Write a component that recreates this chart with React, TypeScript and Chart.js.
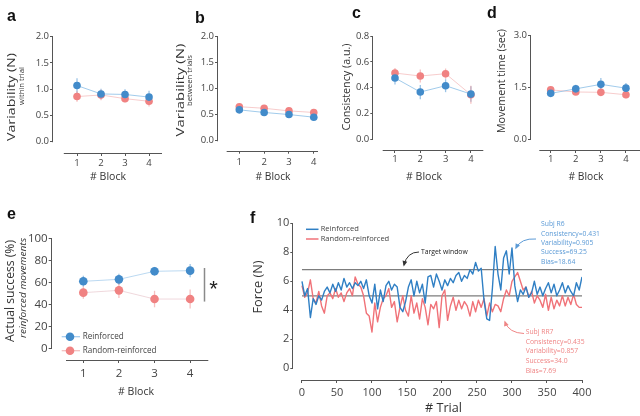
import React, { useEffect, useRef } from "react";
import { Chart, registerables } from "chart.js";

Chart.register(...registerables);

// ---------------- data ----------------
const blocks = [1, 2, 3, 4];

const varWithinReinforced = [1.07, 0.91, 0.9, 0.85];
const varWithinRandom = [0.86, 0.89, 0.82, 0.77];
const varWithinReinforcedErr = [0.14, 0.1, 0.1, 0.12];
const varWithinRandomErr = [0.1, 0.1, 0.07, 0.1];

const varBetweenReinforced = [0.59, 0.54, 0.5, 0.45];
const varBetweenRandom = [0.65, 0.62, 0.57, 0.54];
const varBetweenReinforcedErr = [0.04, 0.03, 0.03, 0.03];
const varBetweenRandomErr = [0.03, 0.03, 0.03, 0.03];

const consistencyReinforced = [0.475, 0.366, 0.415, 0.35];
const consistencyRandom = [0.513, 0.49, 0.508, 0.345];
const consistencyReinforcedErr = [0.05, 0.055, 0.05, 0.06];
const consistencyRandomErr = [0.04, 0.05, 0.04, 0.07];

const moveTimeReinforced = [1.32, 1.45, 1.58, 1.47];
const moveTimeRandom = [1.42, 1.36, 1.35, 1.28];
const moveTimeReinforcedErr = [0.1, 0.12, 0.18, 0.15];
const moveTimeRandomErr = [0.08, 0.08, 0.1, 0.1];

const successReinforced = [60.9, 62.7, 70, 70.6];
const successRandom = [50.6, 52.7, 44.8, 44.8];
const successReinforcedErr = [5, 5, 4, 6];
const successRandomErr = [5.5, 7, 7.5, 8.6];

const trials = [
  0, 4, 8, 12, 16, 20, 24, 28, 32, 36,
  40, 44, 48, 52, 56, 60, 64, 68, 72, 76,
  80, 84, 88, 92, 96, 100, 104, 108, 112, 116,
  120, 124, 128, 132, 136, 140, 144, 148, 152, 156,
  160, 164, 168, 172, 176, 180, 184, 188, 192, 196,
  200, 204, 208, 212, 216, 220, 224, 228, 232, 236,
  240, 244, 248, 252, 256, 260, 264, 268, 272, 276,
  280, 284, 288, 292, 296, 300, 304, 308, 312, 316,
  320, 324, 328, 332, 336, 340, 344, 348, 352, 356,
  360, 364, 368, 372, 376, 380, 384, 388, 392, 396,
  400,
];
const forceReinforced = [
  6.0, 5.0, 5.5, 3.5, 4.8, 4.4, 5.0, 4.7, 5.3, 5.6,
  5.2, 5.8, 5.3, 5.9, 5.4, 6.2, 5.6, 5.9, 5.5, 5.9,
  5.7, 6.0, 5.5, 6.1, 5.0, 4.5, 5.8, 4.1, 5.4, 4.6,
  5.7, 6.0, 5.4, 5.8, 5.6, 4.2, 3.9, 4.6, 5.6, 6.1,
  5.0, 6.0, 5.2, 5.8, 4.5, 6.3, 6.4, 5.6, 6.5, 6.0,
  5.4, 6.1, 5.7, 6.2, 5.9, 6.4, 6.6, 6.0, 6.4, 6.2,
  6.8, 6.5, 7.3, 6.7, 6.9, 4.7, 3.4, 3.3, 5.5, 8.4,
  6.5, 5.4, 7.6, 8.1, 6.5, 8.3, 5.7, 4.6, 5.4, 5.1,
  5.6, 4.9, 5.2, 6.0, 5.1, 5.6, 5.0, 5.5, 5.9, 5.2,
  5.8, 5.0, 5.4, 5.9, 5.2, 5.7, 5.3, 5.0, 5.9, 5.4,
  6.3,
];
const forceRandom = [
  5.7, 4.9, 5.2, 6.1, 4.8, 4.5, 5.3, 4.3, 3.8, 5.0,
  5.2, 4.8, 5.5, 4.9, 5.2, 4.6, 5.2, 5.5, 5.0, 6.3,
  5.8, 5.6, 5.0, 3.8, 3.6, 2.5, 4.5, 3.2, 4.2, 4.8,
  5.0, 5.5, 4.2, 4.6, 3.2, 4.2, 5.0, 4.0, 3.6, 5.0,
  3.8, 4.5, 3.4, 4.8, 4.2, 3.0, 4.4, 4.1, 4.6, 2.8,
  5.0, 5.4, 3.3, 4.3, 4.9, 4.0, 4.7, 4.1, 4.6, 4.3,
  3.6, 4.6, 3.9, 4.7, 4.2, 4.8, 3.6, 4.5, 3.9, 4.4,
  4.3, 3.9, 4.8, 5.4, 5.0, 6.0, 6.3, 6.6, 6.0, 5.4,
  5.6, 4.9, 5.3, 4.5, 5.0, 4.7, 4.2, 5.1, 4.0, 4.9,
  4.1, 4.7, 4.3, 5.0, 4.3, 4.9, 4.4, 5.1, 4.4, 4.2,
  4.2,
];
const targetUpper = 6.8;
const targetLower = 5.0;
const trialRange = [0, 400];

const ticksVarN = [0, 0.5, 1.0, 1.5, 2.0];
const ticksConsistency = [0, 0.2, 0.4, 0.6, 0.8];
const ticksMoveTime = [0, 1.5, 3.0];
const ticksSuccess = [0, 20, 40, 60, 80, 100];
const ticksForce = [0, 2, 4, 6, 8, 10];
const ticksTrial = [0, 50, 100, 150, 200, 250, 300, 350, 400];

const seriesNames = ["Reinforced", "Random-reinforced"];
const subjR6 = ["Subj R6", "Consistency=0.431", "Variability=0.905", "Success=69.25", "Bias=18.64"];
const subjRR7 = ["Subj RR7", "Consistency=0.435", "Variability=0.857", "Success=34.0", "Bias=7.69"];

// ---------------- styles ----------------
const BLUE = "#428bca";
const RED = "#f08282";
const BLUE_LINE = "rgba(130,185,228,0.75)";
const RED_LINE = "rgba(242,170,170,0.6)";
const BLUE_ERR = "rgba(120,175,222,0.75)";
const RED_ERR = "rgba(240,150,150,0.6)";
const TRACE_BLUE = "#2f7fc4";
const TRACE_RED = "#f07278";
const AXIS = "#555";
const TEXT = "#333";

type TextSpec = {
  t: string;
  x: number;
  y: number;
  w?: number;
  stretch?: boolean;
  size?: number;
  rot?: boolean;
  align?: CanvasTextAlign;
  base?: CanvasTextBaseline;
  color?: string;
  bold?: boolean;
  italic?: boolean;
  family?: string;
};

function fontStr(s: TextSpec, size: number) {
  return `${s.italic ? "italic " : ""}${s.bold ? "bold " : ""}${size}px "${s.family || "Open Sans"}"`;
}

function drawText(ctx: CanvasRenderingContext2D, s: TextSpec) {
  ctx.save();
  let size = s.size || 10;
  let sx = 1;
  ctx.font = fontStr(s, size);
  if (s.w) {
    const m = ctx.measureText(s.t).width;
    if (s.stretch) {
      sx = s.w / m;
    } else {
      size = (size * s.w) / m;
      ctx.font = fontStr(s, size);
    }
  }
  ctx.fillStyle = s.color || TEXT;
  ctx.textAlign = s.align || "center";
  ctx.textBaseline = s.base || "middle";
  ctx.translate(s.x, s.y);
  if (s.rot) ctx.rotate(-Math.PI / 2);
  if (sx !== 1) ctx.scale(sx, 1);
  ctx.fillText(s.t, 0, 0);
  ctx.restore();
}

function fitSize(ctx: CanvasRenderingContext2D, text: string, w: number, family = "Open Sans") {
  ctx.save();
  ctx.font = `10px "${family}"`;
  const m = ctx.measureText(text).width;
  ctx.restore();
  return (10 * w) / m;
}

function curveArrow(
  ctx: CanvasRenderingContext2D,
  x0: number, y0: number, cx: number, cy: number, x1: number, y1: number,
  color: string, head: boolean
) {
  ctx.save();
  ctx.strokeStyle = color;
  ctx.fillStyle = color;
  ctx.lineWidth = 1;
  ctx.beginPath();
  ctx.moveTo(x0, y0);
  ctx.quadraticCurveTo(cx, cy, x1, y1);
  ctx.stroke();
  if (head) {
    const a = Math.atan2(y1 - cy, x1 - cx);
    ctx.translate(x1, y1);
    ctx.rotate(a);
    ctx.beginPath();
    ctx.moveTo(1.5, 0);
    ctx.lineTo(-4, -2.4);
    ctx.lineTo(-4, 2.4);
    ctx.closePath();
    ctx.fill();
  }
  ctx.restore();
}

type PanelSpec = {
  L: number; T: number; R: number; B: number;
  xMin: number; xMax: number; xTicks: number[]; xLineStart: number; xLineEnd?: number;
  yMin: number; yMax: number; yTicks: number[];
  yFmt: (v: number) => string;
  tickSize: number; xPad: number; yPad: number;
  datasets: any[];
  errors?: { vals: number[]; errs: number[]; color: string }[];
  texts: TextSpec[];
  extra?: (ctx: CanvasRenderingContext2D, chart: any) => void;
};

function makeConfig(p: PanelSpec): any {
  const yW = 40;
  const xH = 30;
  const plugin = {
    id: "panelExtras",
    beforeDatasetsDraw(chart: any) {
      const ctx: CanvasRenderingContext2D = chart.ctx;
      const xs = chart.scales.x;
      const ys = chart.scales.y;
      ctx.save();
      ctx.strokeStyle = AXIS;
      ctx.lineWidth = 1;
      ctx.beginPath();
      const ax = Math.round(chart.chartArea.left) - 0.5;
      ctx.moveTo(ax, ys.getPixelForValue(p.yTicks[p.yTicks.length - 1]));
      ctx.lineTo(ax, ys.getPixelForValue(p.yTicks[0]) + 0.5);
      const by = Math.round(chart.chartArea.bottom) + 0.5;
      ctx.moveTo(xs.getPixelForValue(p.xLineStart), by);
      ctx.lineTo(xs.getPixelForValue(p.xLineEnd ?? p.xMax), by);
      ctx.stroke();
      (p.errors || []).forEach((e, di) => {
        const meta = chart.getDatasetMeta(di);
        ctx.strokeStyle = e.color;
        ctx.lineWidth = 1.3;
        meta.data.forEach((pt: any, j: number) => {
          ctx.beginPath();
          ctx.moveTo(pt.x, ys.getPixelForValue(e.vals[j] + e.errs[j]));
          ctx.lineTo(pt.x, ys.getPixelForValue(e.vals[j] - e.errs[j]));
          ctx.stroke();
        });
      });
      ctx.restore();
    },
    afterDraw(chart: any) {
      const ctx: CanvasRenderingContext2D = chart.ctx;
      if (p.extra) p.extra(ctx, chart);
      p.texts.forEach((t) => drawText(ctx, t));
    },
  };
  return {
    type: "line",
    data: { datasets: p.datasets },
    options: {
      responsive: false,
      animation: false,
      events: [],
      layout: {
        autoPadding: false,
        padding: { left: p.L - yW, top: p.T, right: 640 - p.R, bottom: 416 - p.B - xH },
      },
      plugins: { legend: { display: false }, tooltip: { enabled: false }, title: { display: false } },
      scales: {
        x: {
          type: "linear",
          min: p.xMin,
          max: p.xMax,
          afterBuildTicks: (s: any) => {
            s.ticks = p.xTicks.map((v) => ({ value: v }));
          },
          afterFit: (s: any) => {
            s.height = xH;
          },
          ticks: {
            font: { family: "Open Sans", size: p.tickSize },
            color: "#444",
            padding: p.xPad,
            maxRotation: 0,
            autoSkip: false,
            callback: (v: number) => String(v),
          },
          grid: { drawOnChartArea: false, drawTicks: true, tickLength: 3, color: AXIS },
          border: { display: false },
        },
        y: {
          type: "linear",
          min: p.yMin,
          max: p.yMax,
          afterBuildTicks: (s: any) => {
            s.ticks = p.yTicks.map((v) => ({ value: v }));
          },
          afterFit: (s: any) => {
            s.width = yW;
          },
          ticks: {
            font: { family: "Open Sans", size: p.tickSize },
            color: "#444",
            padding: p.yPad,
            autoSkip: false,
            callback: (v: number) => p.yFmt(v),
          },
          grid: { drawOnChartArea: false, drawTicks: true, tickLength: 3, color: AXIS },
          border: { display: false },
        },
      },
    },
    plugins: [plugin],
  };
}

function dotSeries(vals: number[], color: string, line: string, r: number) {
  return {
    data: blocks.map((b, i) => ({ x: b, y: vals[i] })),
    borderColor: line,
    borderWidth: 1,
    pointRadius: r,
    pointHoverRadius: r,
    pointBackgroundColor: color,
    pointBorderColor: color,
    pointBorderWidth: 0,
    tension: 0,
  };
}

const fmt1 = (v: number) => v.toFixed(1);
const fmt0 = (v: number) => String(v);

function letter(t: string, x: number, y: number): TextSpec {
  return { t, x, y, size: 16, bold: true, family: "Liberation Sans", align: "left", base: "alphabetic", color: "#111" };
}

function buildConfigs() {
  const r = 3.8;
  const a = makeConfig({
    L: 53, T: 36.7, R: 162, B: 153,
    xMin: 0.0, xMax: 4.54, xTicks: blocks, xLineStart: 0.45,
    yMin: -0.215, yMax: 2.0, yTicks: ticksVarN, yFmt: fmt1,
    tickSize: 9.5, xPad: 1.5, yPad: 1,
    datasets: [
      dotSeries(varWithinReinforced, BLUE, BLUE_LINE, r),
      dotSeries(varWithinRandom, RED, RED_LINE, r),
    ],
    errors: [
      { vals: varWithinReinforced, errs: varWithinReinforcedErr, color: BLUE_ERR },
      { vals: varWithinRandom, errs: varWithinRandomErr, color: RED_ERR },
    ],
    texts: [
      letter("a", 7, 20.7),
      { t: "Variability (N)", x: 11.5, y: 97, w: 88, stretch: true, rot: true, size: 11 },
      { t: "within trial", x: 21.7, y: 86, w: 38, stretch: true, rot: true, size: 6.5 },
      { t: "# Block", x: 108, y: 177, w: 36, size: 12 },
    ],
  });
  const b = makeConfig({
    L: 218, T: 36, R: 318, B: 150.7,
    xMin: 0.141, xMax: 4.17, xTicks: blocks, xLineStart: 0.49,
    yMin: -0.19, yMax: 2.0, yTicks: ticksVarN, yFmt: fmt1,
    tickSize: 9.5, xPad: 2.5, yPad: 1,
    datasets: [
      dotSeries(varBetweenReinforced, BLUE, BLUE_LINE, r),
      dotSeries(varBetweenRandom, RED, RED_LINE, r),
    ],
    errors: [
      { vals: varBetweenReinforced, errs: varBetweenReinforcedErr, color: BLUE_ERR },
      { vals: varBetweenRandom, errs: varBetweenRandomErr, color: RED_ERR },
    ],
    texts: [
      letter("b", 195, 22.7),
      { t: "Variability (N)", x: 180.8, y: 90, w: 93, stretch: true, rot: true, size: 11.5 },
      { t: "between trials", x: 189.5, y: 80.5, w: 51, stretch: true, rot: true, size: 7 },
      { t: "# Block", x: 273, y: 177, w: 35, size: 12 },
    ],
  });
  const c = makeConfig({
    L: 373.3, T: 36, R: 483.3, B: 150,
    xMin: 0.143, xMax: 4.49, xTicks: blocks, xLineStart: 0.514,
    yMin: -0.083, yMax: 0.8, yTicks: ticksConsistency, yFmt: fmt1,
    tickSize: 9.5, xPad: 0.5, yPad: 1,
    datasets: [
      dotSeries(consistencyReinforced, BLUE, BLUE_LINE, r),
      dotSeries(consistencyRandom, RED, RED_LINE, r),
    ],
    errors: [
      { vals: consistencyReinforced, errs: consistencyReinforcedErr, color: BLUE_ERR },
      { vals: consistencyRandom, errs: consistencyRandomErr, color: RED_ERR },
    ],
    texts: [
      letter("c", 352, 18.3),
      { t: "Consistency (a.u.)", x: 347, y: 87, w: 87, stretch: true, rot: true, size: 10.5 },
      { t: "# Block", x: 424, y: 177, w: 36, size: 12 },
    ],
  });
  const d = makeConfig({
    L: 531, T: 35, R: 640, B: 150,
    xMin: 0.215, xMax: 4.56, xTicks: blocks, xLineStart: 0.546,
    yMin: -0.31, yMax: 3.0, yTicks: ticksMoveTime, yFmt: fmt1,
    tickSize: 9.5, xPad: 0.5, yPad: 1,
    datasets: [
      dotSeries(moveTimeReinforced, BLUE, BLUE_LINE, r),
      dotSeries(moveTimeRandom, RED, RED_LINE, r),
    ],
    errors: [
      { vals: moveTimeReinforced, errs: moveTimeReinforcedErr, color: BLUE_ERR },
      { vals: moveTimeRandom, errs: moveTimeRandomErr, color: RED_ERR },
    ],
    texts: [
      letter("d", 487, 18.3),
      { t: "Movement time (sec)", x: 502.5, y: 81, w: 104, stretch: true, rot: true, size: 10.5 },
      { t: "# Block", x: 586, y: 177, w: 35, size: 12 },
    ],
  });
  const e = makeConfig({
    L: 51.7, T: 238.3, R: 208.3, B: 360,
    xMin: 0.112, xMax: 4.51, xTicks: blocks, xLineStart: 0.514,
    yMin: -10.6, yMax: 100, yTicks: ticksSuccess, yFmt: fmt0,
    tickSize: 11.5, xPad: 4, yPad: 1,
    datasets: [
      dotSeries(successReinforced, BLUE, "rgba(170,208,238,0.8)", 4.3),
      dotSeries(successRandom, RED, "rgba(232,200,205,0.7)", 4.3),
    ],
    errors: [
      { vals: successReinforced, errs: successReinforcedErr, color: BLUE_ERR },
      { vals: successRandom, errs: successRandomErr, color: RED_ERR },
    ],
    texts: [
      letter("e", 7, 219.3),
      { t: "Actual success (%)", x: 10, y: 291, w: 102, stretch: true, rot: true, size: 12.5 },
      { t: "reinforced movements", x: 23.7, y: 288, w: 100, stretch: true, rot: true, size: 9.5, italic: true },
      { t: "# Block", x: 136, y: 392, w: 36, size: 13 },
    ],
    extra: (ctx, chart) => {
      const xs = chart.scales.x;
      const ys = chart.scales.y;
      // significance bracket
      ctx.save();
      ctx.strokeStyle = "#8a8a8a";
      ctx.lineWidth = 1.5;
      const bx = Math.round(xs.getPixelForValue(4.39)) + 0.5;
      ctx.beginPath();
      ctx.moveTo(bx, ys.getPixelForValue(73));
      ctx.lineTo(bx, ys.getPixelForValue(42.5));
      ctx.stroke();
      ctx.restore();
      drawText(ctx, { t: "*", x: 213.5, y: 296, size: 22, family: "Liberation Sans", base: "alphabetic", color: "#222" });
      // legend
      const ls = fitSize(ctx, seriesNames[1], 74);
      const rows = [
        { y: 336.7, col: BLUE, line: "rgba(150,195,235,0.9)" },
        { y: 350.7, col: RED, line: "rgba(240,170,170,0.8)" },
      ];
      rows.forEach((rw, i) => {
        ctx.save();
        ctx.strokeStyle = rw.line;
        ctx.lineWidth = 1.2;
        ctx.beginPath();
        ctx.moveTo(61.7, rw.y);
        ctx.lineTo(80, rw.y);
        ctx.stroke();
        ctx.fillStyle = rw.col;
        ctx.beginPath();
        ctx.arc(70, rw.y, 4.3, 0, Math.PI * 2);
        ctx.fill();
        ctx.restore();
        drawText(ctx, { t: seriesNames[i], x: 82.7, y: rw.y, size: ls, align: "left", color: "#444" });
      });
    },
  });

  const traceDs = (vals: number[], color: string) => ({
    data: trials.map((t, i) => ({ x: t, y: vals[i] })),
    borderColor: color,
    borderWidth: 1.4,
    pointRadius: 0,
    pointHoverRadius: 0,
    tension: 0,
    borderJoinStyle: "round",
  });
  const targetDs = (v: number) => ({
    data: trialRange.map((t) => ({ x: t, y: v })),
    borderColor: "#7d7d7d",
    borderWidth: 1.3,
    pointRadius: 0,
    pointHoverRadius: 0,
  });
  const f = makeConfig({
    L: 293.3, T: 223.3, R: 582, B: 380,
    xMin: -12.4, xMax: 400, xTicks: ticksTrial, xLineStart: 0,
    yMin: -0.81, yMax: 10, yTicks: ticksForce, yFmt: fmt0,
    tickSize: 11, xPad: 3, yPad: 1,
    datasets: [
      traceDs(forceReinforced, TRACE_BLUE),
      traceDs(forceRandom, TRACE_RED),
      targetDs(targetUpper),
      targetDs(targetLower),
    ],
    texts: [
      letter("f", 250, 223.3),
      { t: "Force (N)", x: 258.5, y: 287, w: 53, stretch: true, rot: true, size: 12.5 },
      { t: "# Trial", x: 443.5, y: 408, w: 37, size: 15 },
      { t: "Target window", x: 421, y: 252, w: 46.7, size: 8, align: "left", color: "#222" },
    ],
    extra: (ctx) => {
      // legend
      const ls = fitSize(ctx, seriesNames[1], 68.7);
      [
        { y: 229.3, col: TRACE_BLUE },
        { y: 239, col: TRACE_RED },
      ].forEach((rw, i) => {
        ctx.save();
        ctx.strokeStyle = rw.col;
        ctx.lineWidth = 1.5;
        ctx.beginPath();
        ctx.moveTo(306, rw.y);
        ctx.lineTo(318.5, rw.y);
        ctx.stroke();
        ctx.restore();
        drawText(ctx, { t: seriesNames[i], x: 320.7, y: rw.y, size: ls, align: "left", color: "#444" });
      });
      // arrows
      curveArrow(ctx, 419, 252, 407, 252, 404, 265, "#333", true);
      curveArrow(ctx, 536, 239, 521, 238, 516, 248, "#5b9ad6", true);
      curveArrow(ctx, 524, 333.5, 509, 333, 505, 322, "#ef8585", true);
      // annotation blocks
      const as = fitSize(ctx, subjR6[1], 59);
      const r6y = [224.3, 233.7, 243, 252.3, 261.7];
      subjR6.forEach((t, i) =>
        drawText(ctx, { t, x: 541, y: r6y[i], size: as, align: "left", color: "#5b9ad6" })
      );
      const rr7y = [332, 341.7, 351.3, 361, 370.7];
      subjRR7.forEach((t, i) =>
        drawText(ctx, { t, x: 525.7, y: rr7y[i], size: as, align: "left", color: "#ef8585" })
      );
    },
  });
  return [a, b, c, d, e, f];
}

export default function App() {
  const refs = useRef<(HTMLCanvasElement | null)[]>([]);
  useEffect(() => {
    const configs = buildConfigs();
    const charts = configs.map((cfg, i) => new Chart(refs.current[i] as HTMLCanvasElement, cfg));
    return () => charts.forEach((ch) => ch.destroy());
  }, []);
  return (
    <div
      style={{
        position: "fixed",
        left: 0,
        top: 0,
        width: 640,
        height: 416,
        background: "#ffffff",
        overflow: "hidden",
      }}
    >
      {[0, 1, 2, 3, 4, 5].map((i) => (
        <canvas
          key={i}
          ref={(el) => {
            refs.current[i] = el;
          }}
          width={640}
          height={416}
          style={{ position: "absolute", left: 0, top: 0, width: 640, height: 416 }}
        />
      ))}
    </div>
  );
}
